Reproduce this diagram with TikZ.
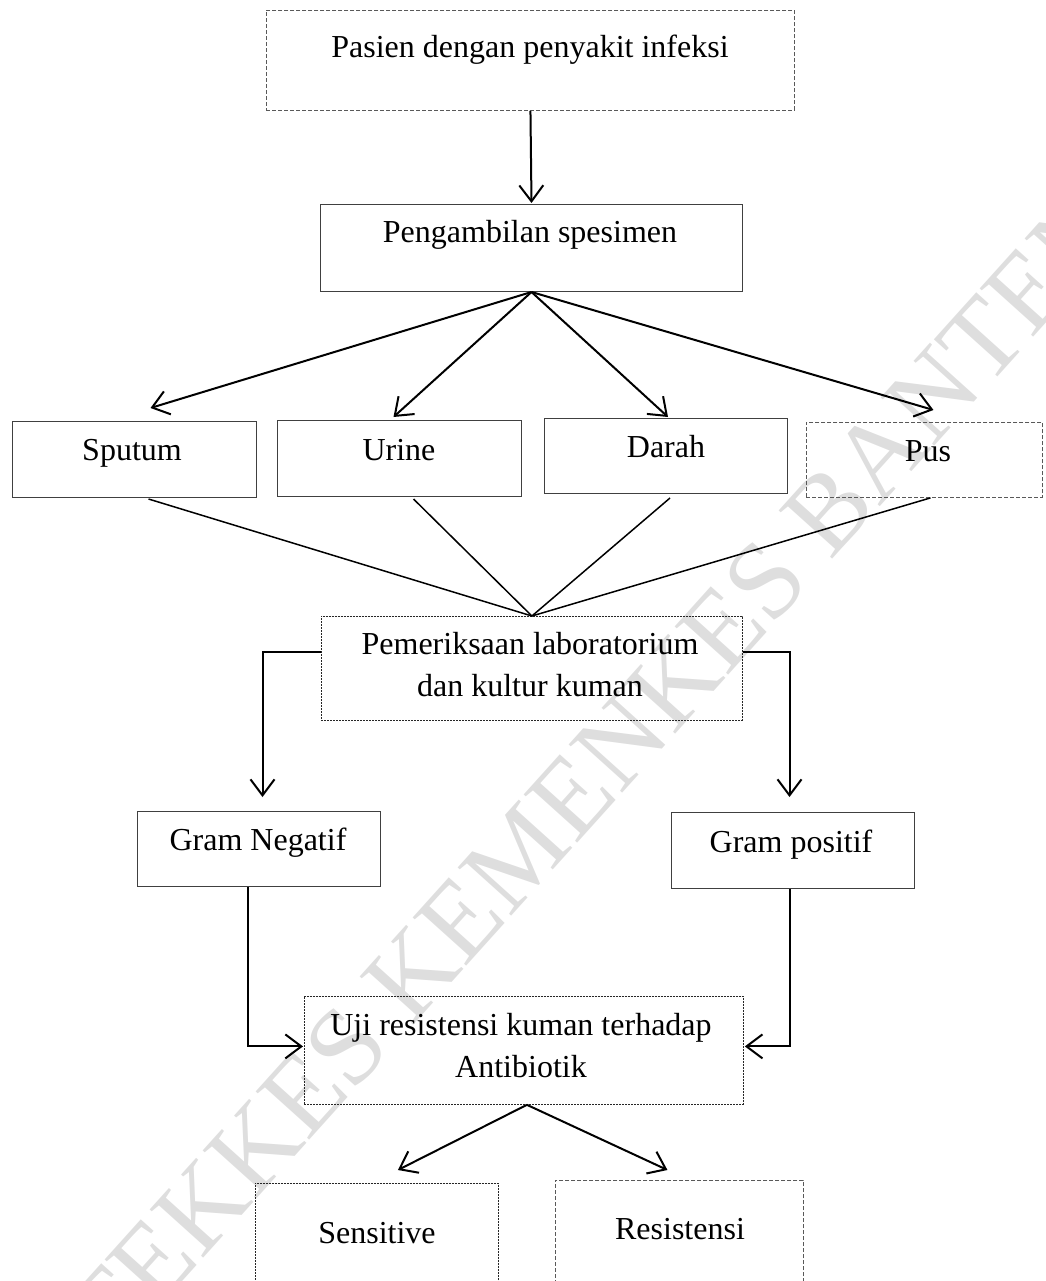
\documentclass[tikz,border=0pt]{standalone}
\usepackage{fontspec}
\setmainfont{Liberation Serif}
\usetikzlibrary{arrows.meta,calc}
\begin{document}
\begin{tikzpicture}[x=1pt,y=-1pt,
  bx/.style={rectangle,inner sep=0pt,anchor=north west},
  solidbox/.style={bx,draw=black!75,line width=1pt},
  graydash/.style={bx,draw=black!65,line width=0.9pt,dash pattern=on 4pt off 2pt},
  finedash/.style={bx,draw=black!85,line width=0.8pt,dash pattern=on 2pt off 1pt},
  lbl/.style={inner sep=0pt,anchor=base,font=\fontsize{32}{42}\selectfont},
  arr/.style={line width=2pt,-{Straight Barb[length=16pt,width=24pt]}},
  ln/.style={line width=1.5pt},
  wmark/.style={inner sep=0pt,anchor=base west,rotate=48,text=black!13,font=\fontsize{110}{110}\selectfont}]
\useasboundingbox (0,0) rectangle (1045,1281);
\clip (0,0) rectangle (1045,1281);
% watermark
\node[wmark] (wm) at (111,1361) {\llap{POL}TEKKES KEMENKES BANTEN};
% boxes
\node[graydash,minimum width=528pt,minimum height=100pt] (pasien) at (266,10) {};
\node[lbl] (tpasien) at (530,58) {Pasien dengan penyakit infeksi};
\node[solidbox,minimum width=422pt,minimum height=87pt] (ambil) at (320,204) {};
\node[lbl] (tambil) at (530,243) {Pengambilan spesimen};
\node[solidbox,minimum width=244pt,minimum height=76pt] (sputum) at (12,421) {};
\node[lbl] (tsputum) at (132,460) {Sputum};
\node[solidbox,minimum width=244pt,minimum height=76pt] (urine) at (277,420) {};
\node[lbl] (turine) at (399,460) {Urine};
\node[solidbox,minimum width=243pt,minimum height=75pt] (darah) at (544,418) {};
\node[lbl] (tdarah) at (666,457) {Darah};
\node[graydash,minimum width=236pt,minimum height=75pt] (pus) at (806,422) {};
\node[lbl] (tpus) at (928,461) {Pus};
\node[finedash,minimum width=421pt,minimum height=104pt] (lab) at (321,616) {};
\node[lbl] (tlab1) at (530,654) {Pemeriksaan laboratorium};
\node[lbl] (tlab2) at (530,696) {dan kultur kuman};
\node[solidbox,minimum width=243pt,minimum height=75pt] (neg) at (137,811) {};
\node[lbl] (tneg) at (258,850) {Gram Negatif};
\node[solidbox,minimum width=243pt,minimum height=76pt] (pos) at (671,812) {};
\node[lbl] (tpos) at (791,852) {Gram positif};
\node[finedash,minimum width=439pt,minimum height=108pt] (uji) at (304,996) {};
\node[lbl] (tuji1) at (521,1035) {Uji resistensi kuman terhadap};
\node[lbl] (tuji2) at (521,1077) {Antibiotik};
\node[finedash,minimum width=243pt,minimum height=130pt] (sens) at (255,1183) {};
\node[lbl] (tsens) at (377,1243) {Sensitive};
\node[graydash,minimum width=248pt,minimum height=130pt] (res) at (555,1180) {};
\node[lbl] (tres) at (680,1239) {Resistensi};
% connectors
\draw[arr] (pasien.south) -- ($(ambil.north)+(0,-1)$);
\coordinate (apex) at (ambil.south);
\draw[arr] (apex) -- ($(sputum.north)+(16,-13)$);
\draw[arr] (apex) -- ($(urine.north)+(-6,-3)$);
\draw[arr] (apex) -- ($(darah.north)+(2,-1)$);
\draw[arr] (apex) -- ($(pus.north)+(9,-12)$);
\draw[ln] ($(sputum.south)+(14,1)$) -- (lab.north);
\draw[ln] ($(urine.south)+(14,2)$) -- (lab.north);
\draw[ln] ($(darah.south)+(4,4)$) -- (lab.north);
\draw[ln] ($(pus.south)+(6,0)$) -- (lab.north);
\draw[arr] ($(lab.west)+(0,-16)$) -| ($(neg.north)+(3.5,-14)$);
\draw[arr] ($(lab.east)+(0,-16)$) -| ($(pos.north)+(-3.5,-15)$);
\draw[arr] ($(neg.south)+(-11,0)$) |- ($(uji.west)+(-1,-4)$);
\draw[arr] ($(pos.south)+(-3,0)$) |- ($(uji.east)+(1,-4)$);
\draw[arr] ($(uji.south)+(3,0)$) -- ($(sens.north)+(21,-13)$);
\draw[arr] ($(uji.south)+(3,0)$) -- ($(res.north)+(-12,-10)$);
\end{tikzpicture}
\end{document}
